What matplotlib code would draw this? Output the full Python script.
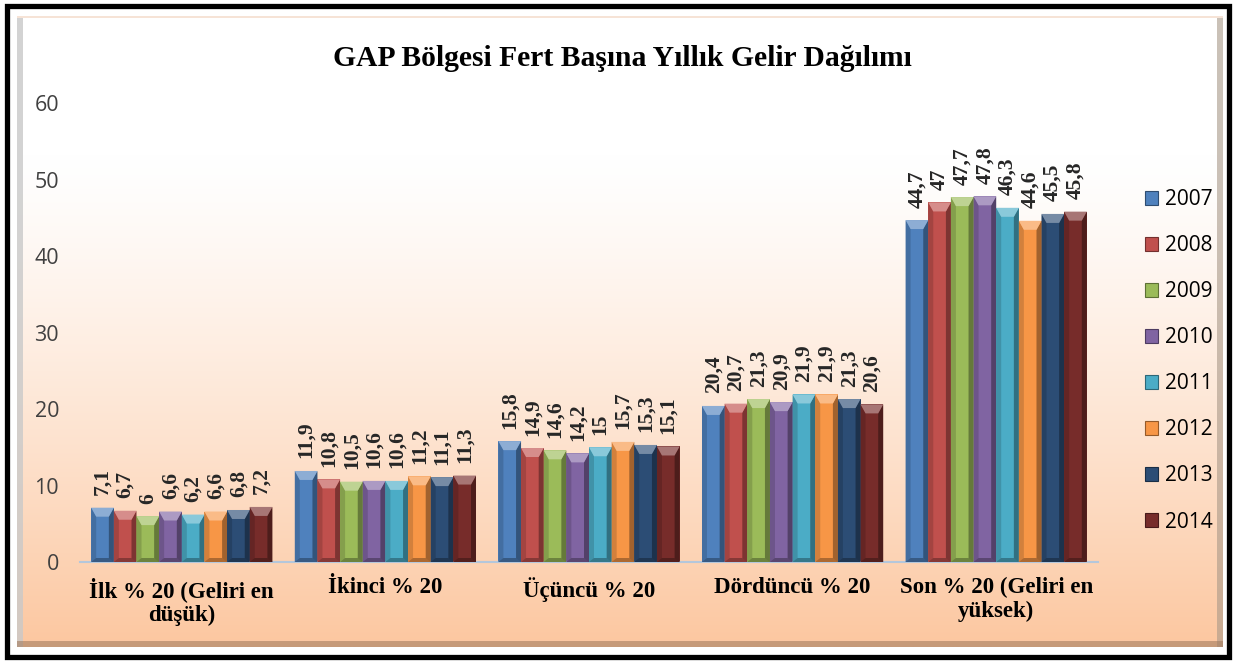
import numpy as np
import matplotlib.pyplot as plt
from matplotlib.patches import Polygon, Rectangle, Patch
from matplotlib.colors import to_rgb

# --- data ---
categories = ['İlk % 20 (Geliri en\ndüşük)', 'İkinci % 20', 'Üçüncü % 20',
              'Dördüncü % 20', 'Son % 20 (Geliri en\nyüksek)']
years = ['2007', '2008', '2009', '2010', '2011', '2012', '2013', '2014']
v2007 = [7.1, 11.9, 15.8, 20.4, 44.7]
v2008 = [6.7, 10.8, 14.9, 20.7, 47.0]
v2009 = [6.0, 10.5, 14.6, 21.3, 47.7]
v2010 = [6.6, 10.6, 14.2, 20.9, 47.8]
v2011 = [6.2, 10.6, 15.0, 21.9, 46.3]
v2012 = [6.6, 11.2, 15.7, 21.9, 44.6]
v2013 = [6.8, 11.1, 15.3, 21.3, 45.5]
v2014 = [7.2, 11.3, 15.1, 20.6, 45.8]
series = [v2007, v2008, v2009, v2010, v2011, v2012, v2013, v2014]
colors = ['#4F81BD', '#C0504D', '#9BBB59', '#8064A2',
          '#4BACC6', '#F79646', '#2C4D75', '#772C2A']

W, H = 1235, 662
fig = plt.figure(figsize=(W / 100, H / 100), dpi=100)
fig.patch.set_facecolor('white')

# background panel (pixel coordinates)
bg = fig.add_axes([0, 0, 1, 1], zorder=0)
bg.set_xlim(0, W)
bg.set_ylim(H, 0)
bg.axis('off')
grad = np.linspace(0, 1, 256)[:, None]
top = np.array(to_rgb('#FFFFFF'))
bot = np.array(to_rgb('#FCC7A0'))
t = np.clip((grad - 0.22) / 0.78, 0, 1) ** 1.25
img = top[None, None, :] * (1 - t[..., None]) + bot[None, None, :] * t[..., None]
img = np.repeat(img, 2, axis=1)
bg.imshow(img, extent=[17, 1223, 647, 16], aspect='auto', zorder=1)
# bevel edges of the panel
bg.add_patch(Rectangle((17, 16), 6, 631, facecolor='#C9C9C9', edgecolor='none', alpha=0.8, zorder=2))
bg.add_patch(Rectangle((1217, 16), 6, 631, facecolor='#A89888', edgecolor='none', alpha=0.6, zorder=2))
bg.add_patch(Rectangle((17, 641), 1206, 6, facecolor='#A27C60', edgecolor='none', alpha=0.6, zorder=2))
bg.add_patch(Rectangle((17, 16), 1206, 2, facecolor='#F6E3D6', edgecolor='none', zorder=2))
# outer black frame
bg.add_patch(Rectangle((7, 6), 1222, 651, facecolor='none', edgecolor='black', linewidth=3.8, zorder=3))

# title
fig.text(622 / W, 1 - 59 / H, 'GAP Bölgesi Fert Başına Yıllık Gelir Dağılımı',
         ha='center', va='center', fontsize=21.3, fontweight='bold',
         family='Liberation Serif', color='black')

ax = fig.add_axes([80 / W, 1 - 562 / H, 1018 / W, 459 / H], zorder=2)
ax.patch.set_alpha(0)

n = len(years)
bw = 0.89 / n
x = np.arange(len(categories))


def shade(c, f):
    c = np.array(to_rgb(c))
    if f > 0:
        return tuple(c + (1 - c) * f)
    return tuple(c * (1 + f))


px_x = 5 / 1018
px_y = 60 / 459

for i, (vals, col) in enumerate(zip(series, colors)):
    pos = x - 0.445 + bw * (i + 0.5)
    bars = ax.bar(pos, vals, width=bw, color=col, edgecolor='none', zorder=2, label=years[i])
    for b, v in zip(bars, vals):
        x0, x1, h = b.get_x(), b.get_x() + b.get_width(), b.get_height()
        dx, dy = 5 * px_x, 9 * px_y
        ax.add_patch(Polygon([(x0, 0), (x0, h), (x0 + dx, h - dy), (x0 + dx, 0)],
                             closed=True, facecolor=shade(col, -0.15), edgecolor='none', zorder=3))
        ax.add_patch(Polygon([(x1, 0), (x1, h), (x1 - dx, h - dy), (x1 - dx, 0)],
                             closed=True, facecolor=shade(col, -0.35), edgecolor='none', zorder=3))
        ax.add_patch(Polygon([(x0, h), (x1, h), (x1 - dx, h - dy), (x0 + dx, h - dy)],
                             closed=True, facecolor=shade(col, 0.35), edgecolor='none', zorder=3))
        ax.add_patch(Polygon([(x0, 0), (x1, 0), (x1 - dx, 4 * px_y), (x0 + dx, 4 * px_y)],
                             closed=True, facecolor=shade(col, -0.3), edgecolor='none', zorder=3))
        lab = ('%g' % v).replace('.', ',')
        ax.annotate(lab, (b.get_x() + b.get_width() / 2, h), xytext=(0, 9),
                    textcoords='offset points', rotation=90, ha='center', va='bottom',
                    fontsize=15.5, fontweight='bold', family='Liberation Serif', color='#262626')

ax.set_xlim(-0.5, 4.5)
ax.set_ylim(0, 60)
ax.set_yticks(range(0, 61, 10))
ax.set_xticks(x)
ax.set_xticklabels(categories, fontsize=16.5, fontweight='bold', family='Liberation Serif',
                   linespacing=1.15)
ax.tick_params(axis='x', length=0, pad=11)
ax.tick_params(axis='y', length=0, pad=15, labelsize=15.5, labelcolor='#404040')
for lab in ax.get_yticklabels():
    lab.set_family('Open Sans')
for s in ['top', 'right', 'left']:
    ax.spines[s].set_visible(False)
ax.spines['bottom'].set_color('#B4C7DC')
ax.spines['bottom'].set_linewidth(1.5)

handles = [Patch(facecolor=c, edgecolor=shade(c, -0.4), linewidth=0.8) for c in colors]
leg = fig.legend(handles, years, loc='center left', bbox_to_anchor=(1126 / W, 1 - 361 / H),
                 frameon=False, handlelength=0.65, handleheight=0.65,
                 handletextpad=0.3, labelspacing=1.2, prop={'family': 'Open Sans', 'size': 15})

fig.savefig('out.png', dpi=100)
